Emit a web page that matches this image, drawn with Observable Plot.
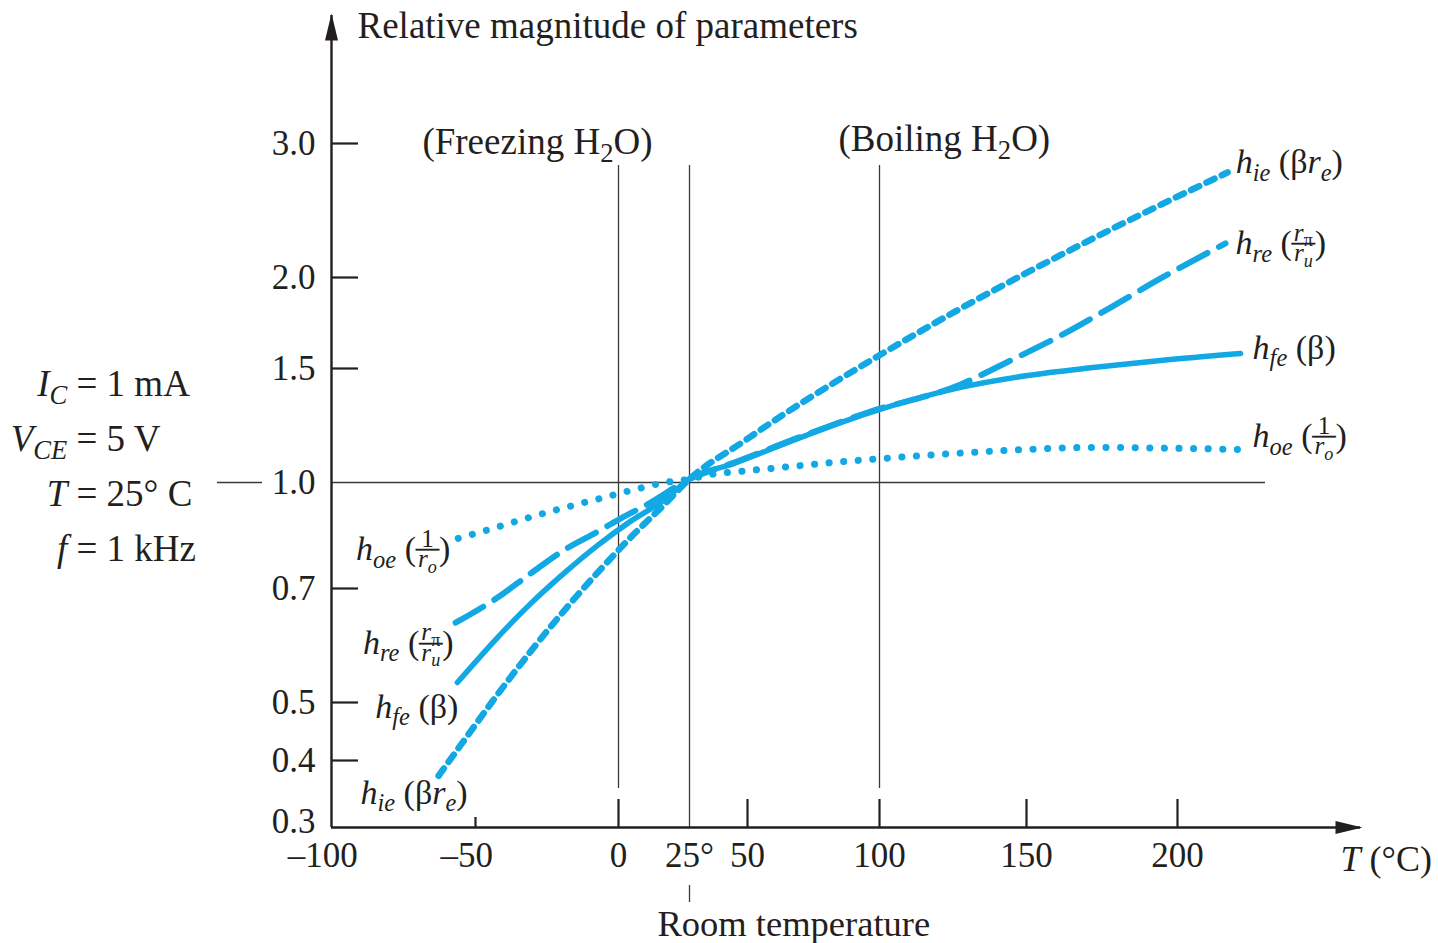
<!DOCTYPE html>
<html>
<head>
<meta charset="utf-8">
<script src="https://cdn.jsdelivr.net/npm/d3@7"></script>
<script src="https://cdn.jsdelivr.net/npm/@observablehq/plot@0.6"></script>
<style>
  html, body { margin: 0; padding: 0; background: #fff; overflow: hidden; }
  #chart svg { display: block; }
</style>
</head>
<body>
<div id="chart"></div>
<script>
// ---------------- data ----------------
const xTicks = [-100, -50, 0, 25, 50, 100, 150, 200];
const yTicks = [0.3, 0.4, 0.5, 0.7, 1.0, 1.5, 2.0, 3.0];

const seriesNames = ["hie", "hre", "hfe", "hoe"];
const seriesLabels = [
  "*h*_{*ie*} (β*r*_{*e*})",
  "*h*_{*re*} (\\frac{*r*_{π}}{*r*_{*u*}})",
  "*h*_{*fe*} (β)",
  "*h*_{*oe*} (\\frac{1}{*r*_{*o*}})"
];

const hieT = [-62.8, -54.2, -42.3, -30.8, -19.2, -7.3, 4.2, 15.8, 25, 48.3, 63.6, 75, 99.2, 127.6, 172, 216.6];
const hieV = [0.375, 0.433, 0.514, 0.589, 0.660, 0.745, 0.844, 0.935, 1.015, 1.180, 1.298, 1.382, 1.566, 1.830, 2.291, 2.784];
const hreT = [-56.9, -42.3, -30.8, -19.2, -7.3, 0.7, 10.2, 25, 44, 70, 95.5, 127.6, 144.6, 161.3, 177.8, 194.4, 215.9];
const hreV = [0.640, 0.684, 0.742, 0.808, 0.861, 0.898, 0.938, 1.015, 1.086, 1.200, 1.307, 1.430, 1.544, 1.681, 1.835, 1.995, 2.254];
const hfeT = [-56.3, -42.3, -30.8, -19.2, -7.3, 4.2, 15.8, 25, 44, 70, 95.5, 127.6, 150.3, 172, 194.4, 220.9];
const hfeV = [0.535, 0.614, 0.673, 0.742, 0.822, 0.890, 0.949, 1.015, 1.083, 1.197, 1.303, 1.417, 1.469, 1.505, 1.544, 1.582];
const hoeT = [-56, -42.3, -30.8, -19.2, -7.3, 4.2, 15.8, 25, 34, 48.3, 66.3, 82.6, 106.1, 127.6, 150.3, 172, 194.4, 219.9];
const hoeV = [0.842, 0.874, 0.902, 0.928, 0.953, 0.977, 0.999, 1.015, 1.035, 1.050, 1.070, 1.088, 1.110, 1.129, 1.145, 1.154, 1.151, 1.145];

const refTemps = [0, 25, 100];
const refLabels = ["(Freezing H_{2}O)", "Room temperature", "(Boiling H_{2}O)"];
const unityValue = 1.0;

const paramNames = ["*I*_{*C*}", "*V*_{*CE*}", "*T*", "*f*"];
const paramValues = ["1 mA", "5 V", "25° C", "1 kHz"];

const yTitle = "Relative magnitude of parameters";
const xTitle = "*T* (°C)";

// ---------------- styles / layout ----------------
const ink = "#231f20";
const grid = "#3a3a3a";
const blue = "#12a8e4";
const serif = "'Liberation Serif', 'Times New Roman', 'DejaVu Serif', serif";

const lineStyles = {
  hie: {strokeWidth: 6.5, strokeDasharray: "9 8"},
  hre: {strokeWidth: 6, strokeDasharray: "32 13"},
  hfe: {strokeWidth: 5.5},
  hoe: {strokeWidth: 7, strokeDasharray: "0.1 14.5", strokeLinecap: "round"}
};
const labelOffsets = {
  right: {hie: [8, 1], hre: [10, 11], hfe: [12, 5], hoe: [15, -2]},
  left: {hie: [29, 28], hre: [-2, 31], hfe: [1, 35], hoe: [-8, 22]}
};

// ---------------- derived tables ----------------
const seriesT = {hie: hieT, hre: hreT, hfe: hfeT, hoe: hoeT};
const seriesV = {hie: hieV, hre: hreV, hfe: hfeV, hoe: hoeV};
const curves = seriesNames.map(name => seriesT[name].map((T, i) => ({name, T, V: seriesV[name][i]})));
const ends = seriesNames.map((name, k) => ({
  name, first: curves[k][0], last: curves[k][curves[k].length - 1], label: seriesLabels[k]
}));
const refs = refTemps.map((T, i) => ({T, label: refLabels[i]}));
const paramMarkup = paramNames.map((n, i) => `${n} &= ${paramValues[i]}`).join("|");

const yTickMarks = yTicks.filter(v => v !== 0.3 && v !== unityValue);
const xTickMarks = xTicks.filter(v => v > -50 && v !== 25);
const xShortTicks = xTicks.filter(v => v === -50);

const fmtX = d => d < 0 ? "\u2013" + Math.abs(d) + "\u2007" : d === 25 ? "25°" : String(d);

// custom narrow filled arrow head
const arrowHead = {draw(ctx) { ctx.moveTo(0, -2); ctx.lineTo(6.5, 25); ctx.lineTo(-6.5, 25); ctx.closePath(); }};

const R = s => "§" + s;

const marks = [
  // reference lines
  Plot.ruleX(refs.filter(d => d.T !== 25), {x: "T", insetTop: 150, insetBottom: 39, stroke: grid, strokeWidth: 1.3}),
  Plot.ruleX(refs.filter(d => d.T === 25), {x: "T", insetTop: 150, stroke: grid, strokeWidth: 1.3}),
  Plot.ruleX(refs.filter(d => d.T === 25), {x: "T", insetTop: 870, insetBottom: -75, stroke: grid, strokeWidth: 1.3}),
  Plot.ruleY([unityValue], {insetRight: 95, stroke: grid, strokeWidth: 1.4}),
  Plot.ruleY([unityValue], {insetLeft: -114, insetRight: 1098, stroke: grid, strokeWidth: 1.4}),
  // axes lines
  Plot.ruleX([xTicks[0]], {stroke: ink, strokeWidth: 2.4}),
  Plot.ruleY([yTicks[0]], {dy: 6, stroke: ink, strokeWidth: 2.4}),
  Plot.tickY(yTickMarks, {y: d => d, insetRight: 1002, stroke: ink, strokeWidth: 2.2}),
  Plot.tickX(xTickMarks, {x: d => d, insetTop: 784, stroke: ink, strokeWidth: 2.2}),
  Plot.tickX(xShortTicks, {x: d => d, insetTop: 802, stroke: ink, strokeWidth: 2.2}),
  Plot.dot([0], {frameAnchor: "top-left", symbol: arrowHead, r: 3, fill: ink, stroke: null}),
  Plot.dot([0], {frameAnchor: "bottom-right", symbol: arrowHead, r: 3, fill: ink, stroke: null, rotate: 90}),
  // curves
  ...seriesNames.map((name, k) => Plot.line(curves[k], {
    x: "T", y: "V", stroke: blue, curve: "monotone-x", strokeLinejoin: "round", ...lineStyles[name]
  })),
  // axis labels
  Plot.axisY(yTicks, {tickSize: 0, tickPadding: 16, tickFormat: d => d.toFixed(1), fontSize: 35, fill: ink, label: null}),
  Plot.axisX(xTicks, {tickSize: 0, tickPadding: 15, tickFormat: fmtX, fontSize: 35, fill: ink, label: null}),
  // titles
  Plot.text([yTitle], {frameAnchor: "top-left", dx: 26, dy: 22, textAnchor: "start", lineAnchor: "bottom", fontSize: 37, fill: ink}),
  Plot.text([R(xTitle)], {frameAnchor: "bottom-right", dx: -20, dy: 43, textAnchor: "start", lineAnchor: "bottom", fontSize: 36, fill: ink}),
  // reference labels
  Plot.text(refs.filter(d => d.T === 0), {x: "T", frameAnchor: "top", text: d => R(d.label), dx: 34, dy: 138, textAnchor: "end", lineAnchor: "bottom", fontSize: 37, fill: ink}),
  Plot.text(refs.filter(d => d.T === 100), {x: "T", frameAnchor: "top", text: d => R(d.label), dx: -41, dy: 135, textAnchor: "start", lineAnchor: "bottom", fontSize: 37, fill: ink}),
  Plot.text(refs.filter(d => d.T === 25), {x: "T", frameAnchor: "bottom", text: "label", dx: -32, dy: 108, textAnchor: "start", lineAnchor: "bottom", fontSize: 36.5, fill: ink}),
  // operating conditions
  Plot.text([R(paramMarkup)], {frameAnchor: "left", y: unityValue, dx: -255, dy: -87, textAnchor: "start", lineAnchor: "bottom", fontSize: 37, fill: ink}),
  // curve labels
  ...seriesNames.flatMap((name, k) => {
    const [rdx, rdy] = labelOffsets.right[name];
    const [ldx, ldy] = labelOffsets.left[name];
    return [
      Plot.text([ends[k]], {x: d => d.last.T, y: d => d.last.V, text: d => R(d.label), textAnchor: "start", lineAnchor: "bottom", dx: rdx, dy: rdy, fontSize: 34, fill: ink}),
      Plot.text([ends[k]], {x: d => d.first.T, y: d => d.first.V, text: d => R(d.label), textAnchor: "end", lineAnchor: "bottom", dx: ldx, dy: ldy, fontSize: 34, fill: ink})
    ];
  })
];

const svg = Plot.plot({
  width: 1438,
  height: 943,
  marginLeft: 331,
  marginRight: 78,
  marginTop: 15,
  marginBottom: 116,
  x: {type: "linear", domain: xTicks, range: [331, 475, 618, 689, 747, 879, 1026, 1177]},
  y: {type: "linear", domain: yTicks, range: [821, 760, 702, 588, 482, 368, 277, 143]},
  style: {fontFamily: serif, background: "#fff", color: ink},
  marks
});
document.getElementById("chart").appendChild(svg);

// ---------------- rich text (subscripts, italics, fractions) ----------------
const NS = "http://www.w3.org/2000/svg";
function parseRich(s) {
  let i = 0;
  function seq(stop) {
    const out = []; let buf = "";
    const flush = () => { if (buf) { out.push({t: "text", v: buf}); buf = ""; } };
    while (i < s.length) {
      const ch = s[i];
      if (stop && ch === stop) { i++; break; }
      if (ch === "*") { flush(); i++; out.push({t: "it", c: seq("*")}); }
      else if (ch === "_" && s[i + 1] === "{") { flush(); i += 2; out.push({t: "sub", c: seq("}")}); }
      else if (s.startsWith("\\frac{", i)) { flush(); i += 6; const n = seq("}"); i++; const d = seq("}"); out.push({t: "frac", n, d}); }
      else if (ch === "&") { flush(); i++; out.push({t: "align"}); }
      else if (ch === "|") { flush(); i++; out.push({t: "br"}); }
      else { buf += ch; i++; }
    }
    flush();
    return out;
  }
  return seq(null);
}
const subCtx = ctx => ({size: ctx.size * 0.72, italic: ctx.italic, base: ctx.base + ctx.size * 0.22});
function flatRuns(nodes, ctx, out = []) {
  for (const n of nodes) {
    if (n.t === "text") out.push({text: n.v, size: ctx.size, italic: ctx.italic});
    else if (n.t === "it") flatRuns(n.c, {...ctx, italic: true}, out);
    else if (n.t === "sub") flatRuns(n.c, subCtx(ctx), out);
  }
  return out;
}
function makeSpan(run) {
  const t = document.createElementNS(NS, "tspan");
  t.textContent = run.text;
  t.setAttribute("font-size", run.size.toFixed(2));
  if (run.italic) t.setAttribute("font-style", "italic");
  return t;
}
function measureNodes(host, nodes, ctx) {
  const tmp = document.createElementNS(NS, "text");
  tmp.style.whiteSpace = "pre";
  host.appendChild(tmp);
  let w = 0;
  for (const r of flatRuns(nodes, ctx)) { const sp = makeSpan(r); tmp.appendChild(sp); w += sp.getComputedTextLength(); }
  tmp.remove();
  return w;
}
function renderRich(el, nodes, F, lineH) {
  while (el.firstChild) el.removeChild(el.firstChild);
  el.style.whiteSpace = "pre";
  const host = el.parentNode;
  const st = {base: 0, dx: 0, line: 0, needX: false};
  let lineSpans = [];
  const emit = (run, base) => {
    const t = makeSpan(run);
    const target = base + st.line * lineH;
    const dy = target - st.base;
    if (Math.abs(dy) > 1e-6) t.setAttribute("dy", dy.toFixed(2));
    st.base = target;
    if (st.dx) { t.setAttribute("dx", st.dx.toFixed(2)); st.dx = 0; }
    if (st.needX) { t.setAttribute("x", 0); st.needX = false; }
    el.appendChild(t);
    lineSpans.push(t);
    return t;
  };
  const walk = (nodes, ctx) => {
    for (const n of nodes) {
      if (n.t === "text") emit({text: n.v, size: ctx.size, italic: ctx.italic}, ctx.base);
      else if (n.t === "it") walk(n.c, {...ctx, italic: true});
      else if (n.t === "sub") walk(n.c, subCtx(ctx));
      else if (n.t === "frac") {
        const fs = ctx.size * 0.74;
        const numCtx = {size: fs, italic: ctx.italic, base: ctx.base - ctx.size * 0.4};
        const denCtx = {size: fs, italic: ctx.italic, base: ctx.base + ctx.size * 0.2};
        const numW = measureNodes(host, n.n, numCtx);
        const denW = measureNodes(host, n.d, denCtx);
        const W = Math.max(numW, denW) + ctx.size * 0.12;
        st.dx += (W - numW) / 2;
        walk(n.n, numCtx);
        st.dx -= (W + numW) / 2;
        const bar = emit({text: "\u2014", size: W, italic: false}, ctx.base - ctx.size * 0.3 + 0.2255 * W);
        bar.setAttribute("stroke", ink); bar.setAttribute("stroke-width", 0.7);
        st.dx -= W - (W - denW) / 2;
        walk(n.d, denCtx);
        st.dx += (W - denW) / 2;
      } else if (n.t === "align") {
        const w = lineSpans.reduce((a, sp) => a + sp.getComputedTextLength(), 0);
        if (lineSpans.length) lineSpans[0].setAttribute("x", (-w).toFixed(2));
      } else if (n.t === "br") {
        st.line++; st.needX = true; lineSpans = [];
      }
    }
  };
  walk(nodes, {size: F, italic: false, base: 0});
}
svg.querySelectorAll("text").forEach(el => {
  const s = el.textContent;
  if (s.startsWith("§")) {
    const F = parseFloat(getComputedStyle(el).fontSize) || 34;
    renderRich(el, parseRich(s.slice(1)), F, 55);
  }
});
</script>
</body>
</html>
